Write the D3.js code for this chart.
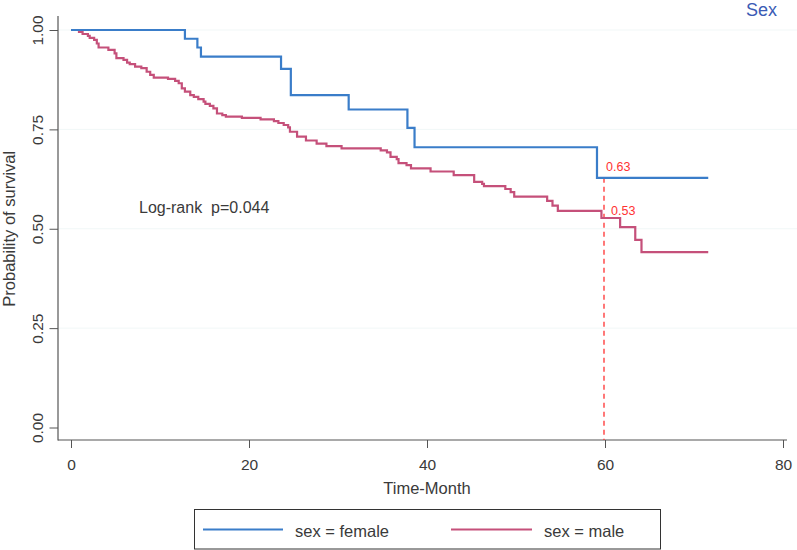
<!DOCTYPE html>
<html>
<head>
<meta charset="utf-8">
<script src="https://cdn.jsdelivr.net/npm/d3@7"></script>
<style>
  html, body { margin: 0; padding: 0; background: #ffffff; }
  svg { display: block; font-family: "Liberation Sans", Arial, sans-serif; }
</style>
</head>
<body>
<svg id="chart" width="797" height="550"></svg>
<script>
// ---- data ----
const femaleTime = [0, 12.8, 14.2, 14.6, 23.6, 24.7, 31.2, 37.8, 38.6, 59.1, 71.6];
const femaleSurv = [1.0, 0.978, 0.956, 0.933, 0.902, 0.836, 0.80, 0.754, 0.705, 0.628, 0.628];

const maleTime = [0, 0.9, 1.3, 1.9, 2.1, 2.6, 2.9, 3.1, 4.2, 4.9, 5.1, 5.9, 6.3, 6.6, 7.2, 7.9, 8.5, 8.9, 9.3,
  10.9, 11.7, 12.1, 12.45, 12.8, 13.4, 13.8, 14.3, 14.9, 15.1, 15.6, 16.0, 16.4, 17.0, 17.4, 19.2, 21.3,
  22.8, 23.3, 23.9, 24.4, 24.6, 25.4, 26.4, 27.6, 28.7, 30.4, 34.8, 35.5, 35.9, 36.6, 36.8, 37.7, 38.2,
  40.4, 43.0, 45.3, 46.2, 46.4, 48.8, 49.4, 49.8, 53.5, 54.1, 54.7, 59.6, 61.7, 63.4, 64.1, 71.6];
const maleSurv = [1.0, 0.995, 0.99, 0.985, 0.98, 0.975, 0.966, 0.956, 0.95, 0.941, 0.929, 0.925, 0.918, 0.914,
  0.908, 0.904, 0.895, 0.887, 0.88, 0.877, 0.872, 0.866, 0.853, 0.845, 0.836, 0.832, 0.826, 0.82, 0.814,
  0.809, 0.803, 0.79, 0.786, 0.782, 0.779, 0.775, 0.771, 0.766, 0.761, 0.755, 0.744, 0.732, 0.722, 0.714,
  0.708, 0.702, 0.697, 0.692, 0.681, 0.675, 0.665, 0.66, 0.652, 0.644, 0.635, 0.618, 0.613, 0.607, 0.600,
  0.592, 0.581, 0.57, 0.558, 0.545, 0.527, 0.504, 0.472, 0.441, 0.441];

const xTicks = [0, 20, 40, 60, 80];
const yTicks = [0, 0.25, 0.5, 0.75, 1.0];
const markTime = 60;
const markLabels = ["0.63", "0.53"];
const markValues = [0.628, 0.527];
const seriesNames = ["sex = female", "sex = male"];
const pValueText = "Log-rank  p=0.044";
const titleText = "Sex";

// ---- drawing ----
const svg = d3.select("#chart");
const W = 797, H = 550;
const axisX = 58, axisY = 440;
const x = d3.scaleLinear().domain([0, 80]).range([71, 783]);
const y = d3.scaleLinear().domain([0, 1]).range([427.5, 30]);

const blue = "#3a7dc9";
const red = "#c5507a";
const txt = "#3a3a3a";

// faint gridlines
svg.append("g").selectAll("line").data(yTicks.filter(d => d > 0)).join("line")
  .attr("x1", axisX).attr("x2", W)
  .attr("y1", d => y(d)).attr("y2", d => y(d))
  .attr("stroke", "#f1f7f7").attr("stroke-width", 1);

// y axis
const yAxis = d3.axisLeft(y).tickValues(yTicks).tickFormat(d3.format(".2f")).tickSize(8.5).tickPadding(0);
const gy = svg.append("g").attr("transform", `translate(${axisX},0)`).call(yAxis);
gy.select(".domain").remove();
gy.selectAll(".tick line").attr("stroke", "#555").attr("stroke-width", 1);
gy.selectAll(".tick text")
  .attr("x", 0).attr("dy", null).attr("y", 0)
  .attr("transform", "translate(-15,0) rotate(-90)")
  .attr("text-anchor", "middle")
  .attr("font-size", "15.5px").attr("fill", txt)
  .attr("font-family", "Liberation Sans, Arial, sans-serif");

// x axis
const xAxis = d3.axisBottom(x).tickValues(xTicks).tickFormat(d3.format("d")).tickSize(8).tickPadding(11);
const gx = svg.append("g").attr("transform", `translate(0,${axisY})`).call(xAxis);
gx.select(".domain").remove();
gx.selectAll(".tick line").attr("stroke", "#555").attr("stroke-width", 1);
gx.selectAll(".tick text").attr("font-size", "15.5px").attr("fill", txt)
  .attr("font-family", "Liberation Sans, Arial, sans-serif");

// axis lines
svg.append("line").attr("x1", axisX).attr("x2", axisX).attr("y1", 16).attr("y2", axisY + 0.5)
  .attr("stroke", "#555").attr("stroke-width", 1.2);
svg.append("line").attr("x1", axisX).attr("x2", 787).attr("y1", axisY).attr("y2", axisY)
  .attr("stroke", "#555").attr("stroke-width", 1.2);

// axis titles
svg.append("text").attr("transform", `translate(15,${(30 + 427.5) / 2}) rotate(-90)`)
  .attr("text-anchor", "middle").attr("font-size", "16.5px").attr("fill", txt)
  .text("Probability of survival");
svg.append("text").attr("x", 427).attr("y", 493.5)
  .attr("text-anchor", "middle").attr("font-size", "16.5px").attr("fill", txt)
  .text("Time-Month");

// curves
const line = d3.line().x(d => x(d[0])).y(d => y(d[1])).curve(d3.curveStepAfter);
const femaleData = femaleTime.map((t, i) => [t, femaleSurv[i]]);
const maleData = maleTime.map((t, i) => [t, maleSurv[i]]);

// dashed marker at 60 months
svg.append("line").attr("x1", x(markTime) - 1).attr("x2", x(markTime) - 1)
  .attr("y1", y(markValues[0])).attr("y2", axisY)
  .attr("stroke", "#ff3030").attr("stroke-width", 1.3).attr("stroke-dasharray", "5,4");

svg.append("path").datum(maleData).attr("d", line)
  .attr("fill", "none").attr("stroke", red).attr("stroke-width", 2.2);
svg.append("path").datum(femaleData).attr("d", line)
  .attr("fill", "none").attr("stroke", blue).attr("stroke-width", 2.2);

// marker labels
svg.append("text").attr("x", x(markTime) + 1).attr("y", y(markValues[0]) - 6.5)
  .attr("font-size", "12.5px").attr("fill", "#ff3333").text(markLabels[0]);
svg.append("text").attr("x", x(markTime) + 6).attr("y", y(markValues[1]) - 3.5)
  .attr("font-size", "12.5px").attr("fill", "#ff3333").text(markLabels[1]);

// p-value text
svg.append("text").attr("x", 139).attr("y", 212.5)
  .attr("font-size", "16px").attr("fill", txt).attr("xml:space", "preserve")
  .style("white-space", "pre").text(pValueText);

// title
svg.append("text").attr("x", 777).attr("y", 15.5).attr("text-anchor", "end")
  .attr("font-size", "18px").attr("fill", "#3b5bb5").text(titleText);

// legend
const lg = svg.append("g");
lg.append("rect").attr("x", 194.5).attr("y", 509.5).attr("width", 466).attr("height", 39.5)
  .attr("fill", "#fff").attr("stroke", "#333").attr("stroke-width", 1);
const legendItems = [
  { name: seriesNames[0], color: blue, x0: 203, x1: 283, tx: 295 },
  { name: seriesNames[1], color: red, x0: 451, x1: 532, tx: 544 }
];
legendItems.forEach(it => {
  lg.append("line").attr("x1", it.x0).attr("x2", it.x1).attr("y1", 529.5).attr("y2", 529.5)
    .attr("stroke", it.color).attr("stroke-width", 2.2);
  lg.append("text").attr("x", it.tx).attr("y", 536.5).attr("font-size", "16.5px").attr("fill", txt)
    .text(it.name);
});
</script>
</body>
</html>
